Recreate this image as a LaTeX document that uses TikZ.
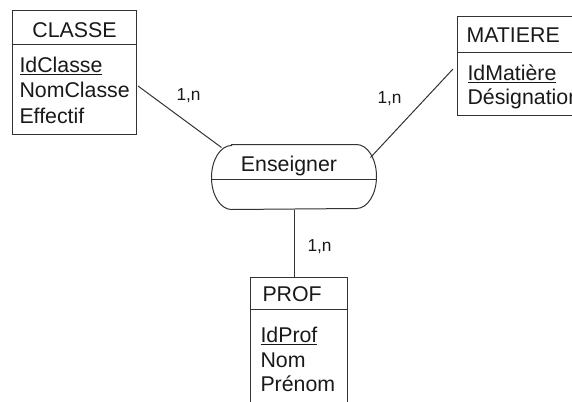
\documentclass[tikz,border=0pt]{standalone}
\usepackage{fontspec}
\setmainfont{Liberation Sans}
\usetikzlibrary{calc}

\tikzset{every picture/.style={line width=0.75pt}}
\tikzset{
  entity/.style={draw=black!80, anchor=north west, inner sep=0pt},
  title/.style={anchor=base, inner sep=0pt, text=black!90, font=\fontsize{16}{19}\selectfont},
  attr/.style={anchor=base west, inner sep=0pt, text=black!90, font=\fontsize{16}{19}\selectfont},
  card/.style={anchor=base west, inner sep=0pt, text=black!90, font=\fontsize{13}{15}\selectfont},
  link/.style={draw=black!80},
}

\begin{document}
\begin{tikzpicture}[x=0.75pt,y=0.75pt,yscale=-1,xscale=1]
\path[use as bounding box] (0,0) rectangle (572,401);
\clip (0,0) rectangle (572,401);

% Entity CLASSE
\node[entity, minimum width=93pt, minimum height=93pt] (classe) at (12,10) {};
\draw[link] ($(classe.north west)+(0,34)$) -- ($(classe.north east)+(0,34)$);
\node[title] (classe-t) at (74.5,37) {CLASSE};
\node[attr] (classe-a1) at (19,72) {\underline{IdClasse}};
\node[attr] (classe-a2) at (19,97.5) {NomClasse};
\node[attr] (classe-a3) at (19,123) {Effectif};

% Entity MATIERE
\node[entity, minimum width=97.5pt, minimum height=74.25pt] (matiere) at (457,16) {};
\draw[link] ($(matiere.north west)+(0,36)$) -- ($(matiere.north east)+(0,36)$);
\node[attr] (matiere-t) at (466,42) {MATIERE};
\node[attr] (matiere-a1) at (467,80) {\underline{IdMatière}};
\node[attr] (matiere-a2) at (467,104) {Désignation};

% Entity PROF
\node[entity, minimum width=72.75pt, minimum height=107.25pt] (prof) at (250,277) {};
\draw[link] ($(prof.north west)+(0,32)$) -- ($(prof.north east)+(0,32)$);
\node[attr] (prof-t) at (262,301) {PROF};
\node[attr] (prof-a1) at (260,342) {\underline{IdProf}};
\node[attr] (prof-a2) at (260,367) {Nom};
\node[attr] (prof-a3) at (260,391) {Prénom};

% Relation Enseigner
\node[inner sep=0pt, minimum width=123pt, minimum height=48pt] (ens) at (294,177) {};
\draw[link] ($(ens.north west)+(20,0)$) -- ($(ens.north east)+(-20,0)$)
  arc[start angle=-90, end angle=90, x radius=20, y radius=32]
  -- ($(ens.south west)+(20,0)$)
  arc[start angle=90, end angle=270, x radius=20, y radius=32] -- cycle;
\draw[link] ($(ens.west)+(0,2)$) -- ($(ens.east)+(0,2)$);
\node[title] (ens-t) at (289,171) {Enseigner};

% Connections
\draw[link] ($(classe.north east)+(1,76)$) -- ($(ens.north west)+(10,3)$);
\draw[link] ($(ens.north east)+(-6,13)$) -- ($(matiere.north west)+(-4,53)$);
\draw[link] (ens.south) -- (ens.south |- prof.north);

% Cardinalities
\node[card] (card-classe) at (176,100) {1,n};
\node[card] (card-matiere) at (377,103) {1,n};
\node[card] (card-prof) at (307,251) {1,n};

\end{tikzpicture}
\end{document}
